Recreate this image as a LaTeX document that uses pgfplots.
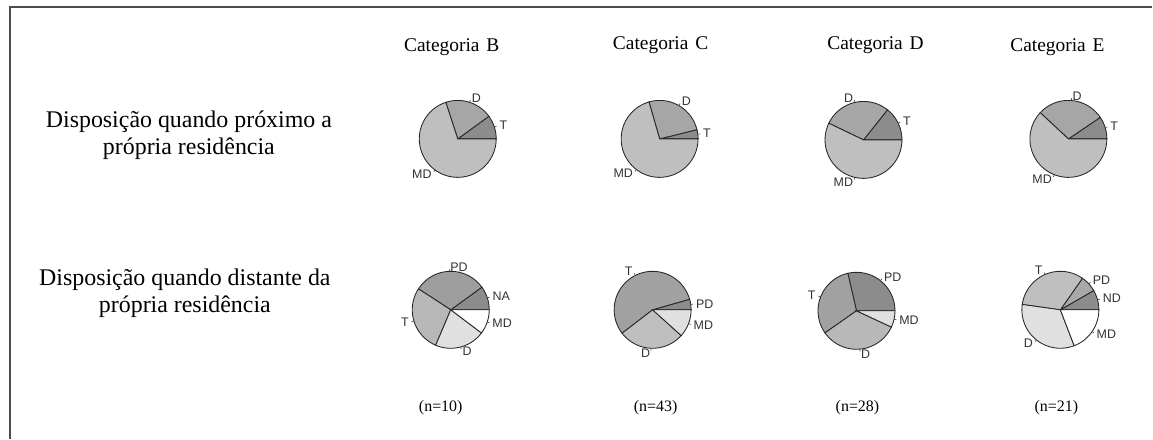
\documentclass[border=0pt]{standalone}
\usepackage{pgfplots}
\pgfplotsset{compat=1.18}
\usepackage{fontspec}
\setmainfont{Liberation Serif}
\newfontfamily\lsans{Liberation Sans}

% one wedge: start angle, end angle, fill
\newcommand{\slice}[3]{
\addplot[draw=black!85, line width=0.85bp, fill=#3, data cs=polar, domain=#1:#2, samples=40] (x,1) -- (axis cs:0,0) -- cycle;
}
% slice label: mid angle, anchor, text
\newcommand{\plab}[3]{
\addplot[black!75, line width=0.6bp, data cs=polar] coordinates {(#1,1) (#1,1.06)};
\node[anchor=#2, inner sep=0.6bp, font=\lsans\fontsize{12.5}{12.5}\selectfont, text=black!80] at (axis cs:{1.12*cos(#1)},{1.12*sin(#1)}) {#3};
}
\pgfplotsset{pie/.style={anchor=center, width=107.8bp, height=107.8bp, scale only axis,
  xmin=-1.4, xmax=1.4, ymin=-1.4, ymax=1.4, hide axis, clip=false}}

\begin{document}
\begin{tikzpicture}[x=1bp, y=1bp]
\path (0,0) rectangle (1153,439);
\draw[black!70, line width=1.4bp] (10,0) -- (10,432) -- (1153,432);

\begin{scope}[font=\fontsize{19.5}{21}\selectfont]
\node at (452,392) {Categoria\hspace{0.35em}B};
\node at (661,394) {Categoria\hspace{0.35em}C};
\node at (876,394) {Categoria\hspace{0.35em}D};
\node at (1058,392) {Categoria\hspace{0.35em}E};
\end{scope}
\begin{scope}[font=\fontsize{24}{27}\selectfont]
\node[align=center] at (189,304) {Disposição quando próximo a\\própria residência};
\node[align=center] at (185,146) {Disposição quando distante da\\própria residência};
\end{scope}
\begin{scope}[font=\fontsize{16}{17}\selectfont]
\node at (441,31) {(n=10)};
\node at (656,31) {(n=43)};
\node at (858,31) {(n=28)};
\node at (1057,31) {(n=21)};
\end{scope}

% row 1: close to own residence
\begin{axis}[pie, at={(458bp,300bp)}]
\slice{0}{36}{black!45}
\slice{36}{108}{black!35}
\slice{108}{360}{black!25}
\plab{18}{west}{T}
\plab{72}{west}{D}
\plab{234}{east}{MD}
\end{axis}

\begin{axis}[pie, at={(660bp,300bp)}]
\slice{0}{14}{black!45}
\slice{14}{106}{black!35}
\slice{106}{360}{black!25}
\plab{7}{west}{T}
\plab{60}{west}{D}
\plab{233}{east}{MD}
\end{axis}

\begin{axis}[pie, at={(864bp,299bp)}]
\slice{0}{51.4}{black!45}
\slice{51.4}{154.3}{black!35}
\slice{154.3}{360}{black!25}
\plab{25.7}{west}{T}
\plab{102.9}{east}{D}
\plab{257}{east}{MD}
\end{axis}

\begin{axis}[pie, at={(1069bp,300bp)}]
\slice{0}{34}{black!45}
\slice{34}{137}{black!35}
\slice{137}{360}{black!25}
\plab{17}{west}{T}
\plab{85.5}{west}{D}
\plab{248.5}{east}{MD}
\end{axis}

% row 2: far from own residence
\begin{axis}[pie, at={(451bp,129bp)}]
\slice{0}{36}{black!45}
\slice{36}{147}{black!38}
\slice{147}{247}{black!28}
\slice{247}{323}{black!12}
\slice{323}{360}{white}
\plab{18}{west}{NA}
\plab{91.5}{west}{PD}
\plab{197}{east}{T}
\plab{285}{west}{D}
\plab{341.5}{west}{MD}
\end{axis}

\begin{axis}[pie, at={(653bp,129bp)}]
\slice{0}{16}{black!45}
\slice{16}{217.5}{black!37}
\slice{217.5}{318}{black!25}
\slice{318}{360}{black!12}
\plab{8}{west}{PD}
\plab{116.7}{east}{T}
\plab{267.7}{east}{D}
\plab{339}{west}{MD}
\end{axis}

\begin{axis}[pie, at={(857bp,128bp)}]
\slice{0}{103}{black!45}
\slice{103}{215}{black!37}
\slice{215}{335}{black!28}
\slice{335}{360}{black!12}
\plab{51.5}{west}{PD}
\plab{159}{east}{T}
\plab{275}{west}{D}
\plab{347.5}{west}{MD}
\end{axis}

\begin{axis}[pie, at={(1061bp,129bp)}]
\slice{0}{30}{black!45}
\slice{30}{55}{black!34}
\slice{55}{172}{black!25}
\slice{172}{291}{black!12}
\slice{291}{360}{white}
\plab{15}{west}{ND}
\plab{42.5}{west}{PD}
\plab{113.5}{east}{T}
\plab{231.5}{east}{D}
\plab{325.5}{west}{MD}
\end{axis}
\end{tikzpicture}
\end{document}
